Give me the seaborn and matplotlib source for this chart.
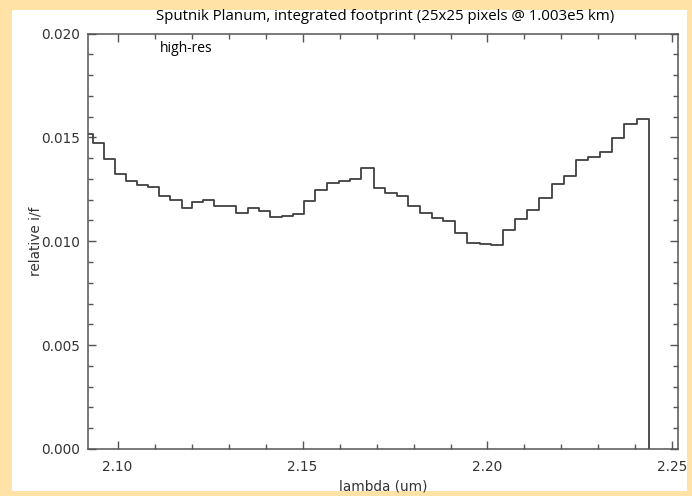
import matplotlib
matplotlib.use("Agg")
import matplotlib.pyplot as plt
from matplotlib.patches import Rectangle
from matplotlib.ticker import MultipleLocator
import pandas as pd
import seaborn as sns

# step starts (um); last point is the drop to zero
lam = [2.0900, 2.09339, 2.09637, 2.09935, 2.10225, 2.10523, 2.10829, 2.11127,
       2.11425, 2.11734, 2.12013, 2.12311, 2.12609, 2.12907, 2.13205, 2.13522,
       2.13828, 2.14126, 2.14443, 2.14741, 2.15047, 2.15345, 2.15662, 2.15977,
       2.16275, 2.16584, 2.16925, 2.17242, 2.17540, 2.17846, 2.18171, 2.18507,
       2.18805, 2.19120, 2.19455, 2.19797, 2.20106, 2.20420, 2.20737, 2.21062,
       2.21395, 2.21731, 2.22056, 2.22390, 2.22723, 2.23048, 2.23365, 2.23682,
       2.24042, 2.24375]
rel_if = [0.01518, 0.01474, 0.01398, 0.01325, 0.01288, 0.01269, 0.01261, 0.01216,
          0.01200, 0.01160, 0.01189, 0.01197, 0.01168, 0.01168, 0.01136, 0.01159,
          0.01144, 0.01117, 0.01122, 0.01133, 0.01194, 0.01245, 0.01282, 0.01288,
          0.01301, 0.01354, 0.01258, 0.01232, 0.01218, 0.01170, 0.01138, 0.01114,
          0.01096, 0.01040, 0.00992, 0.00986, 0.00984, 0.01056, 0.01109, 0.01149,
          0.01210, 0.01277, 0.01313, 0.01389, 0.01405, 0.01429, 0.01497, 0.01562,
          0.01590, 0.0]

title = "Sputnik Planum, integrated footprint (25x25 pixels @ 1.003e5 km)"

sns.set_style("ticks")
plt.rcParams['font.family'] = ['DejaVu Sans']

df = pd.DataFrame({"lam": lam, "rel_if": rel_if})

fig = plt.figure(figsize=(6.92, 4.96), dpi=100, facecolor="#FFE3A6")
# white panel inside the peach frame
fig.patches.append(Rectangle((12 / 692, 5 / 496), 675 / 692, 481 / 496,
                             transform=fig.transFigure, facecolor="white",
                             edgecolor="none", zorder=-10))
ax = fig.add_axes([88 / 692, 47 / 496, 590 / 692, 415.5 / 496])
ax.set_zorder(5)

sns.lineplot(data=df, x="lam", y="rel_if", ax=ax, estimator=None, sort=False,
             drawstyle="steps-post", color="#404040", linewidth=1.3)

ax.set_xlim(2.092, 2.2515)
ax.set_ylim(0, 0.020)
ax.xaxis.set_major_locator(MultipleLocator(0.05))
ax.xaxis.set_minor_locator(MultipleLocator(0.01))
ax.yaxis.set_major_locator(MultipleLocator(0.005))
ax.yaxis.set_minor_locator(MultipleLocator(0.001))
ax.xaxis.set_major_formatter(plt.FormatStrFormatter("%.2f"))
ax.yaxis.set_major_formatter(plt.FormatStrFormatter("%.3f"))

for s in ax.spines.values():
    s.set_visible(True)
    s.set_color("#555555")
    s.set_linewidth(1.1)
ax.tick_params(which="both", direction="in", top=True, right=True,
               color="#555555", labelcolor="#333333", labelsize=9.8)
ax.tick_params(which="major", length=6, width=1.0, pad=6)
ax.tick_params(which="minor", length=3.5, width=1.0)
ax.tick_params(axis="x", which="major", pad=8)

ax.set_xlabel("lambda (um)", fontsize=9.8, color="#333333", labelpad=4)
ax.set_ylabel("relative i/f", fontsize=9.8, color="#333333", labelpad=-1)

ax.text(2.1115, 0.01928, "high-res", fontsize=10, family="Open Sans",
        va="center", ha="left", color="black")
fig.text(385 / 692, 1 - 17 / 496, title, fontsize=10.8, family="Open Sans",
         ha="center", va="center", color="black")

fig.savefig("out.png", dpi=100, facecolor=fig.get_facecolor())
